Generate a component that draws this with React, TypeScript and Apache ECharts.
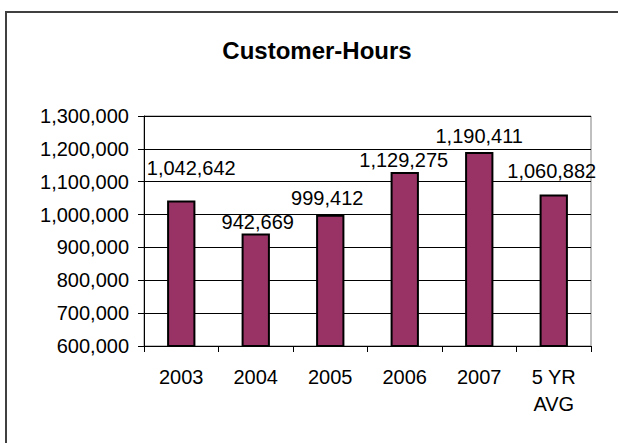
import React, { useEffect, useRef } from "react";
import * as echarts from "echarts";

const categories = ["2003", "2004", "2005", "2006", "2007", "5 YR\nAVG"];
const customerHours = [1042642, 942669, 999412, 1129275, 1190411, 1060882];
const yMin = 600000;
const yMax = 1300000;
const yStep = 100000;
const titleText = "Customer-Hours";

const FONT = '"Liberation Sans", Arial, sans-serif';
const labelOffsets = [
  [10, -23],
  [2, -1],
  [-3, -7],
  [-1, -2],
  [0, -6],
  [-2, -14],
];

const fmt = (v: number) => v.toLocaleString("en-US");

export default function App() {
  const ref = useRef<HTMLDivElement>(null);
  useEffect(() => {
    if (!ref.current) return;
    const chart = echarts.init(ref.current, undefined, { renderer: "svg" });
    chart.setOption({
      animation: false,
      backgroundColor: "#ffffff",
      title: {
        text: titleText,
        left: 312,
        top: 45,
        textAlign: "center",
        textVerticalAlign: "middle",
        textStyle: { fontFamily: FONT, fontSize: 24, fontWeight: "bold", color: "#000" },
      },
      graphic: [
        {
          type: "rect",
          shape: { x: 6, y: 12, width: 700, height: 600 },
          style: { fill: "none", stroke: "#404040", lineWidth: 2 },
          silent: true,
        },
      ],
      grid: {
        left: 144,
        right: 27,
        top: 116,
        bottom: 97,
        show: true,
        borderColor: "#808080",
        borderWidth: 1,
        containLabel: false,
      },
      xAxis: {
        type: "category",
        data: categories,
        boundaryGap: true,
        axisLine: { show: true, lineStyle: { color: "#000", width: 1 } },
        axisTick: { show: true, length: 6, alignWithLabel: false, lineStyle: { color: "#000" } },
        axisLabel: {
          fontFamily: FONT,
          fontSize: 20,
          color: "#000",
          margin: 17,
          lineHeight: 27,
          interval: 0,
        },
      },
      yAxis: {
        type: "value",
        min: yMin,
        max: yMax,
        interval: yStep,
        axisLine: { show: true, lineStyle: { color: "#000", width: 1 } },
        axisTick: { show: true, length: 6, lineStyle: { color: "#000" } },
        splitLine: { show: true, lineStyle: { color: "#000", width: 1 } },
        axisLabel: {
          fontFamily: FONT,
          fontSize: 20,
          color: "#000",
          margin: 15,
          formatter: (v: number) => fmt(v),
        },
      },
      series: [
        {
          type: "bar",
          data: customerHours.map((v, i) => ({
            value: v,
            label: { offset: labelOffsets[i] },
          })),
          barWidth: "38%",
          itemStyle: { color: "#993366", borderColor: "#000", borderWidth: 2 },
          label: {
            show: true,
            position: "top",
            distance: 0,
            fontFamily: FONT,
            fontSize: 20,
            lineHeight: 20,
            color: "#000",
            formatter: (p: any) => fmt(p.value),
          },
        },
      ],
    });
    return () => chart.dispose();
  }, []);
  return (
    <div
      ref={ref}
      style={{ position: "absolute", left: 0, top: 0, width: 618, height: 443 }}
    />
  );
}
